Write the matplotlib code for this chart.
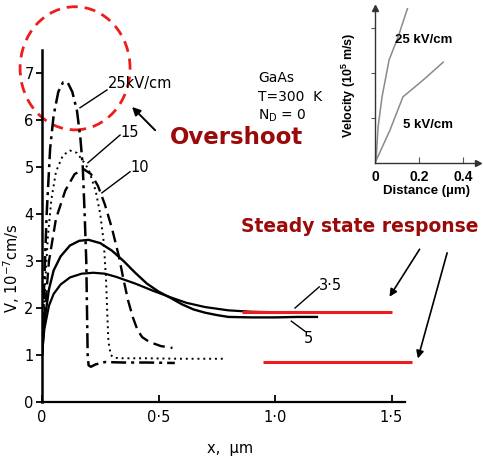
import matplotlib.pyplot as plt
from matplotlib.patches import Ellipse

# velocity vs distance, GaAs, different fields (kV/cm)
x25 = [0.0, 0.01, 0.02, 0.035, 0.05, 0.07, 0.09, 0.11, 0.13, 0.15, 0.165, 0.175,
       0.183, 0.19, 0.193, 0.196, 0.2, 0.21, 0.23, 0.27, 0.35, 0.45, 0.57]
v25 = [1.0, 2.6, 4.0, 5.4, 6.1, 6.6, 6.8, 6.8, 6.6, 6.2, 5.6, 5.0,
       4.0, 3.0, 2.0, 1.0, 0.78, 0.75, 0.8, 0.85, 0.84, 0.84, 0.83]

x15 = [0.0, 0.01, 0.025, 0.04, 0.06, 0.09, 0.12, 0.15, 0.18, 0.2, 0.23, 0.25,
       0.265, 0.275, 0.28, 0.285, 0.295, 0.31, 0.35, 0.45, 0.6, 0.79]
v15 = [1.0, 2.2, 3.5, 4.3, 4.9, 5.25, 5.35, 5.3, 5.1, 4.95, 4.5, 4.0,
       3.4, 2.6, 1.9, 1.3, 1.0, 0.94, 0.93, 0.93, 0.92, 0.92]

x10 = [0.0, 0.01, 0.03, 0.06, 0.1, 0.14, 0.18, 0.21, 0.24, 0.27, 0.3, 0.33,
       0.35, 0.37, 0.39, 0.41, 0.43, 0.46, 0.51, 0.56]
v10 = [1.0, 1.8, 3.0, 3.9, 4.5, 4.85, 4.95, 4.85, 4.6, 4.2, 3.7, 3.1,
       2.6, 2.15, 1.8, 1.53, 1.38, 1.28, 1.19, 1.15]

x5 = [0.0, 0.01, 0.03, 0.05, 0.08, 0.12, 0.16, 0.2, 0.25, 0.3, 0.35, 0.4,
      0.45, 0.5, 0.55, 0.6, 0.65, 0.7, 0.75, 0.8, 0.9, 1.0, 1.1, 1.18]
v5 = [1.0, 1.7, 2.4, 2.8, 3.1, 3.33, 3.43, 3.45, 3.38, 3.22, 3.0, 2.75,
      2.52, 2.35, 2.22, 2.08, 1.97, 1.9, 1.85, 1.81, 1.8, 1.8, 1.81, 1.81]

x35 = [0.0, 0.01, 0.03, 0.05, 0.08, 0.12, 0.17, 0.22, 0.27, 0.32, 0.4, 0.48,
       0.55, 0.62, 0.7, 0.8, 0.9, 1.0, 1.1, 1.27]
v35 = [1.0, 1.55, 2.05, 2.3, 2.5, 2.65, 2.73, 2.75, 2.73, 2.66, 2.52, 2.36,
       2.23, 2.11, 2.02, 1.95, 1.92, 1.91, 1.91, 1.91]

# steady state levels
steady_hi = 1.91
steady_lo = 0.85

# inset: velocity (1e5 m/s) vs distance (um)
xi25 = [0.0, 0.005, 0.014, 0.032, 0.064, 0.105, 0.15]
vi25 = [0.0, 0.07, 0.8, 1.47, 2.29, 2.8, 3.47]
xi5 = [0.0, 0.068, 0.127, 0.218, 0.31]
vi5 = [0.0, 0.73, 1.47, 1.84, 2.24]

xticks = [0, 0.5, 1.0, 1.5]
xticklabels = ["0", "0·5", "1·0", "1·5"]
yticks = [0, 1, 2, 3, 4, 5, 6, 7]

W, H = 483, 462
fig = plt.figure(figsize=(W / 100, H / 100), dpi=100)

# main axes: origin at (42, 402) px, 233 px per um, 47 px per unit of V
x0, y0, sx, sy = 42, 402, 233, 47
xmax, ymax = 1.8, 8.5
ax = fig.add_axes([x0 / W, (H - y0) / H, xmax * sx / W, ymax * sy / H])
ax.set_xlim(0, xmax)
ax.set_ylim(0, ymax)
for s in ["top", "right"]:
    ax.spines[s].set_visible(False)
ax.spines["left"].set_bounds(0, 7.5)
ax.spines["bottom"].set_bounds(0, 1.56)
ax.spines["left"].set_linewidth(1.8)
ax.spines["bottom"].set_linewidth(1.6)
ax.set_xticks(xticks)
ax.set_xticklabels(xticklabels, fontsize=10.5)
ax.set_yticks(yticks)
ax.set_yticklabels([str(t) for t in yticks], fontsize=10.5)
ax.tick_params(axis="x", direction="in", length=5, width=1.3, pad=6)
ax.tick_params(axis="y", direction="out", length=4, width=1.3, pad=2)
ax.patch.set_visible(False)

ax.plot(x25, v25, color="black", lw=1.8, ls=(0, (6, 2, 1.2, 2)))
ax.plot(x15, v15, color="black", lw=1.4, ls=(0, (1, 2)))
ax.plot(x10, v10, color="black", lw=1.7, ls=(0, (5, 2.5)))
ax.plot(x5, v5, color="black", lw=1.7)
ax.plot(x35, v35, color="black", lw=1.6)

# curve labels with leader lines
ax.plot([0.163, 0.279], [6.26, 6.64], color="black", lw=1)
ax.text(0.282, 6.78, "25kV/cm", fontsize=10.5, va="center")
ax.plot([0.197, 0.335], [5.09, 5.68], color="black", lw=1)
ax.text(0.335, 5.74, "15", fontsize=10.5, va="center")
ax.plot([0.257, 0.378], [4.45, 4.9], color="black", lw=1)
ax.text(0.38, 4.98, "10", fontsize=10.5, va="center")
ax.plot([1.086, 1.19], [2.0, 2.45], color="black", lw=1)
ax.text(1.19, 2.48, "3·5", fontsize=10.5, va="center")
ax.plot([1.07, 1.13], [1.72, 1.5], color="black", lw=1)
ax.text(1.125, 1.35, "5", fontsize=10.5, va="center")

ax.text(-0.13, 2.85, "V, 10$^{-7}$cm/s", fontsize=10.5, rotation=90,
        ha="center", va="center")
ax.text(0.807, -0.98, "x,  \u00b5m", fontsize=10.5, ha="center", va="center")

ax.text(0.927, 6.89, "GaAs", fontsize=10, va="center")
ax.text(0.927, 6.49, "T=300  K", fontsize=10, va="center")
ax.text(0.927, 6.1, "N$_\\mathregular{D}$ = 0", fontsize=10, va="center")

# highlight of the overshoot peak
ax.add_patch(Ellipse((0.142, 7.1), 0.472, 2.62, fill=False, ec="#ee1c1c",
                     lw=2, ls=(0, (4, 2.5)), clip_on=False))
dark_red = "#9b0a0a"
ax.text(0.833, 5.62, "Overshoot", fontsize=16.5, fontweight="bold",
        color=dark_red, ha="center", va="center")
ax.annotate("", xy=(0.378, 6.32), xytext=(0.494, 5.74),
            arrowprops=dict(arrowstyle="-|>", color="black", lw=1.4,
                            mutation_scale=12))

# steady state markers
ax.plot([0.86, 1.5], [steady_hi, steady_hi], color="#ee1c1c", lw=2.2,
        solid_capstyle="butt")
ax.plot([0.95, 1.59], [steady_lo, steady_lo], color="#ee1c1c", lw=2.2,
        solid_capstyle="butt", clip_on=False)
ax.text(1.365, 3.74, "Steady state response", fontsize=13.5, fontweight="bold",
        color=dark_red, ha="center", va="center")
ax.annotate("", xy=(1.485, 2.19), xytext=(1.627, 3.30),
            arrowprops=dict(arrowstyle="-|>", color="black", lw=1.2,
                            mutation_scale=11))
ax.annotate("", xy=(1.61, 0.87), xytext=(1.742, 3.23),
            arrowprops=dict(arrowstyle="-|>", color="black", lw=1.2,
                            mutation_scale=11))

# inset: origin at (375, 163) px, 220 px per um, 45 px per unit
ix0, iy0, isx, isy = 375, 163, 220, 45
ixmax, iymax = 0.47, 3.45
ins = fig.add_axes([ix0 / W, (H - iy0) / H, ixmax * isx / W, iymax * isy / H])
ins.set_xlim(0, ixmax)
ins.set_ylim(0, iymax)
ins.patch.set_visible(False)
for s in ["top", "right"]:
    ins.spines[s].set_visible(False)
for s in ["left", "bottom"]:
    ins.spines[s].set_color("#333333")
    ins.spines[s].set_linewidth(1)
ins.plot(1, 0, ">", color="#333333", ms=5, transform=ins.transAxes, clip_on=False)
ins.plot(0, 1, "^", color="#333333", ms=5, transform=ins.transAxes, clip_on=False)
ins.set_xticks([0, 0.2, 0.4])
ins.set_xticklabels(["0", "0.2", "0.4"], fontsize=10, fontweight="bold",
                    family="Liberation Sans")
ins.set_yticks([1, 2, 3])
ins.set_yticklabels([])
ins.tick_params(axis="x", direction="in", length=4, width=0.8, colors="#555555",
                labelcolor="black", pad=5)
ins.tick_params(axis="y", direction="out", length=3, width=0.8, colors="#555555")

ins.plot(xi25, vi25, color="#8a8a8a", lw=1.1)
ins.plot(xi5, vi5, color="#8a8a8a", lw=1.1)
ins.text(0.09, 2.73, "25 kV/cm", fontsize=9.5, fontweight="bold",
         family="Liberation Sans", va="center")
ins.text(0.127, 0.84, "5 kV/cm", fontsize=9.5, fontweight="bold",
         family="Liberation Sans", va="center")
ins.set_ylabel("Velocity (10$^\\mathregular{5}$ m/s)", fontsize=9, fontweight="bold",
               family="Liberation Sans", labelpad=6)
ins.set_xlabel("Distance (\u00b5m)", fontsize=9.5, fontweight="bold",
               family="Liberation Sans", labelpad=1)

fig.savefig("out.png", dpi=100)
